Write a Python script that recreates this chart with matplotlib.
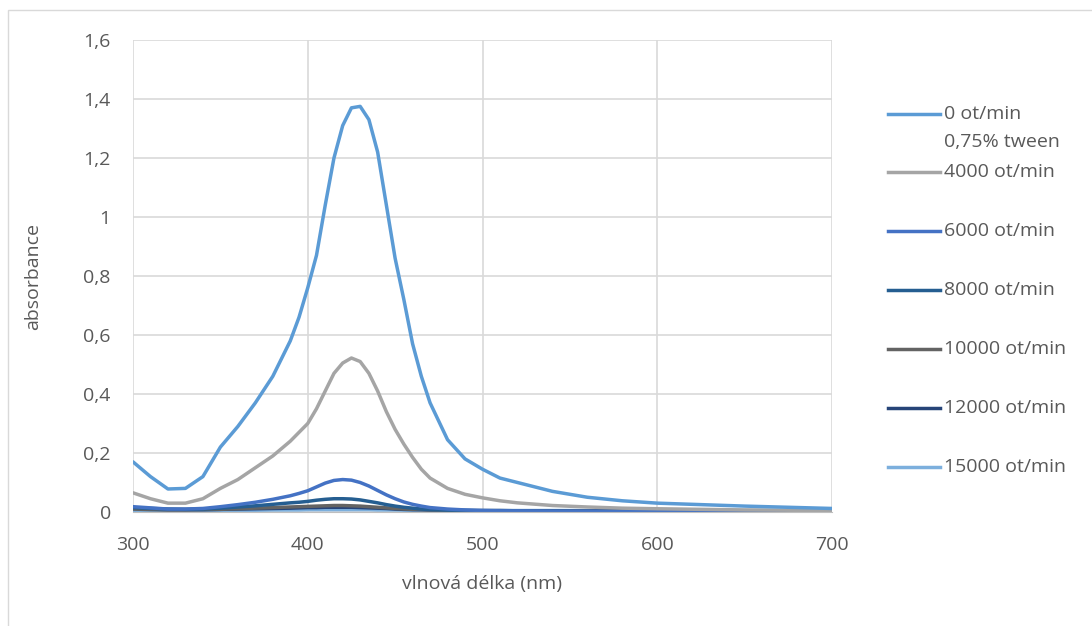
import matplotlib.pyplot as plt
from matplotlib.lines import Line2D
from matplotlib.ticker import FuncFormatter

plt.rcParams['font.family'] = ['Open Sans', 'DejaVu Sans']

wl = [300, 310, 320, 330, 340, 350, 360, 370, 380, 390, 395, 400, 405, 410, 415, 420,
      425, 430, 435, 440, 445, 450, 455, 460, 465, 470, 480, 490, 500, 510, 520, 540,
      560, 580, 600, 650, 700]

a0 = [0.17, 0.12, 0.078, 0.08, 0.12, 0.22, 0.29, 0.37, 0.46, 0.58, 0.66, 0.76, 0.87,
      1.04, 1.2, 1.31, 1.37, 1.375, 1.33, 1.22, 1.04, 0.86, 0.72, 0.57, 0.46, 0.37,
      0.245, 0.18, 0.145, 0.115, 0.1, 0.07, 0.05, 0.038, 0.03, 0.02, 0.012]
a4000 = [0.065, 0.045, 0.03, 0.03, 0.045, 0.08, 0.11, 0.15, 0.19, 0.24, 0.27, 0.3,
         0.35, 0.41, 0.47, 0.505, 0.522, 0.51, 0.47, 0.41, 0.34, 0.28, 0.23, 0.185,
         0.145, 0.115, 0.08, 0.06, 0.048, 0.038, 0.031, 0.022, 0.017, 0.013, 0.011,
         0.007, 0.005]
a6000 = [0.018, 0.014, 0.01, 0.01, 0.012, 0.018, 0.025, 0.033, 0.043, 0.055, 0.063,
         0.072, 0.085, 0.098, 0.107, 0.11, 0.108, 0.1, 0.088, 0.073, 0.058, 0.045,
         0.034, 0.026, 0.02, 0.015, 0.01, 0.007, 0.005, 0.004, 0.004, 0.003, 0.003,
         0.002, 0.002, 0.002, 0.002]
a8000 = [0.015, 0.012, 0.01, 0.009, 0.01, 0.013, 0.017, 0.021, 0.026, 0.031, 0.033,
         0.036, 0.04, 0.043, 0.045, 0.045, 0.044, 0.041, 0.036, 0.031, 0.025, 0.02,
         0.016, 0.013, 0.01, 0.008, 0.006, 0.005, 0.004, 0.004, 0.003, 0.003, 0.002,
         0.002, 0.002, 0.002, 0.002]
a10000 = [0.01, 0.008, 0.007, 0.007, 0.008, 0.009, 0.011, 0.013, 0.015, 0.017, 0.018,
          0.019, 0.02, 0.021, 0.022, 0.022, 0.021, 0.02, 0.018, 0.016, 0.014, 0.012,
          0.01, 0.009, 0.008, 0.007, 0.005, 0.004, 0.004, 0.003, 0.003, 0.003, 0.003,
          0.002, 0.002, 0.002, 0.002]
a12000 = [0.012, 0.01, 0.008, 0.008, 0.008, 0.009, 0.01, 0.011, 0.012, 0.013, 0.014,
          0.015, 0.015, 0.016, 0.016, 0.016, 0.016, 0.015, 0.014, 0.013, 0.012, 0.01,
          0.009, 0.008, 0.008, 0.007, 0.006, 0.005, 0.005, 0.005, 0.004, 0.004, 0.004,
          0.004, 0.003, 0.003, 0.003]
a15000 = [0.006, 0.005, 0.005, 0.005, 0.005, 0.005, 0.006, 0.006, 0.007, 0.007, 0.007,
          0.008, 0.008, 0.008, 0.008, 0.008, 0.008, 0.008, 0.008, 0.007, 0.007, 0.007,
          0.006, 0.006, 0.006, 0.006, 0.005, 0.005, 0.005, 0.005, 0.005, 0.005, 0.005,
          0.005, 0.005, 0.005, 0.005]

labels = ['0 ot/min\n0,75% tween', '4000 ot/min', '6000 ot/min', '8000 ot/min',
          '10000 ot/min', '12000 ot/min', '15000 ot/min']
series = [a0, a4000, a6000, a8000, a10000, a12000, a15000]
colors = ['#5B9BD5', '#A5A5A5', '#4472C4', '#255E91', '#636363', '#264478', '#7CAFDD']
txt = '#595959'

fig = plt.figure(figsize=(10.92, 6.26), dpi=100)
ax = fig.add_axes([133 / 1092, 1 - 512 / 626, 699 / 1092, 472 / 626])

# draw from last to first so the big curves sit on top
for y, c in reversed(list(zip(series, colors))):
    ax.plot(wl, y, color=c, lw=2.5, solid_capstyle='round', solid_joinstyle='round')

ax.set_xlim(300, 700)
ax.set_ylim(0, 1.6)
ax.set_xticks([300, 400, 500, 600, 700])
ax.set_yticks([0, 0.2, 0.4, 0.6, 0.8, 1.0, 1.2, 1.4, 1.6])
ax.yaxis.set_major_formatter(FuncFormatter(lambda v, p: ('%g' % round(v, 1)).replace('.', ',')))
ax.grid(True, color='#D9D9D9', lw=1.2)
ax.set_axisbelow(True)
for s in ['top', 'right', 'left']:
    ax.spines[s].set_visible(False)
ax.spines['bottom'].set_color('#BFBFBF')
ax.tick_params(length=0, labelsize=14, colors=txt)
ax.tick_params(axis='x', pad=17)
ax.tick_params(axis='y', pad=16)
ax.set_xlabel('vlnová délka (nm)', fontsize=14, color=txt, va='center')
ax.set_ylabel('absorbance', fontsize=14, color=txt, va='center')
ax.xaxis.set_label_coords(0.5, (512 - 584) / 472)
ax.yaxis.set_label_coords((33 - 133) / 699, 0.5)

# legend at the right
leg_y = [114, 172, 231, 290, 349, 408, 467]
for lab, c, yy in zip(labels, colors, leg_y):
    fy = 1 - yy / 626
    fig.add_artist(Line2D([888 / 1092, 940 / 1092], [fy, fy], color=c, lw=2.5,
                          transform=fig.transFigure))
    for k, part in enumerate(lab.split('\n')):
        fig.text(944 / 1092, 1 - (yy + 28 * k) / 626, part, fontsize=14, color=txt,
                 va='center')

# chart border
fig.add_artist(plt.Rectangle((8 / 1092, -0.01), 1.1, 1 - 10 / 626 + 0.01, fill=False,
                             edgecolor='#D9D9D9', lw=1, transform=fig.transFigure))

fig.savefig('out.png', dpi=100)
